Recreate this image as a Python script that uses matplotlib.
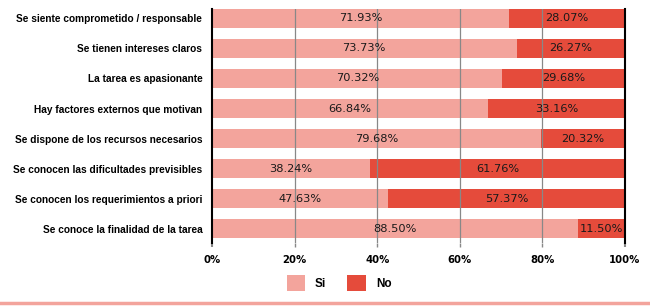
import matplotlib
matplotlib.use("Agg")
import matplotlib.pyplot as plt
from matplotlib.patches import Patch
from matplotlib import font_manager

categories = [
    "Se siente comprometido / responsable",
    "Se tienen intereses claros",
    "La tarea es apasionante",
    "Hay factores externos que motivan",
    "Se dispone de los recursos necesarios",
    "Se conocen las dificultades previsibles",
    "Se conocen los requerimientos a priori",
    "Se conoce la finalidad de la tarea",
]
si_vals = [71.93, 73.73, 70.32, 66.84, 79.68, 38.24, 47.63, 88.50]
no_vals = [28.07, 26.27, 29.68, 33.16, 20.32, 61.76, 57.37, 11.50]
xticks = [0, 20, 40, 60, 80, 100]
xtick_labels = ["0%", "20%", "40%", "60%", "80%", "100%"]
series_names = ["Si", "No"]

c_si = "#F3A49C"
c_no = "#E54B3B"

names = {f.name for f in font_manager.fontManager.ttflist}
narrow = "Liberation Sans Narrow" if "Liberation Sans Narrow" in names else "Liberation Sans"
plt.rcParams['font.family'] = ['DejaVu Sans']

fig = plt.figure(figsize=(6.5, 3.06), dpi=100)
ax = fig.add_axes([212/650, 1-243/306, 413/650, 234/306])

ys = list(range(len(categories)))
h = 0.63
ax.barh(ys, si_vals, height=h, color=c_si, zorder=2)
no_left = [100 - v for v in no_vals]
ax.barh(ys, no_vals, left=no_left, height=h, color=c_no, zorder=2)

for y, s, n in zip(ys, si_vals, no_vals):
    vis = min(s, 100 - n)
    ax.text(vis / 2, y, f"{s:.2f}%", ha="center", va="center", fontsize=8.2, color="#1a1a1a", zorder=4)
    ax.text(100 - n / 2, y, f"{n:.2f}%", ha="center", va="center", fontsize=8.2, color="#1a1a1a", zorder=4)

ax.set_xlim(0, 100)
ax.set_ylim(7.47, -0.31)
ax.set_yticks(ys)
ax.set_yticklabels(categories, fontsize=8.3 if narrow != "Liberation Sans" else 7.3,
                   fontweight="bold", family=[narrow, "DejaVu Sans"])
ax.tick_params(axis="y", length=0, pad=7)
ax.set_xticks(xticks)
ax.set_xticklabels(xtick_labels, fontsize=7.3, fontweight="bold")
ax.tick_params(axis="x", length=3, width=1, color="#888888", pad=5.5)
xt = ax.xaxis.get_major_ticks()
for i in (0, len(xt) - 1):
    xt[i].tick1line.set_color("black")
    xt[i].tick1line.set_markeredgewidth(1.5)

for x in xticks[1:-1]:
    ax.axvline(x, color="#888888", lw=0.9, zorder=3)

for s in ("top", "bottom"):
    ax.spines[s].set_visible(False)
for s in ("left", "right"):
    ax.spines[s].set_color("black")
    ax.spines[s].set_linewidth(1.5)

handles = [Patch(facecolor=c_si, edgecolor="none"), Patch(facecolor=c_no, edgecolor="none")]
fig.legend(handles, series_names, loc="center", bbox_to_anchor=(339/650, 1-283/306),
           ncol=2, frameon=False, handlelength=1.6, handleheight=1.6, columnspacing=1.8,
           handletextpad=0.8, prop={"family": [narrow, "DejaVu Sans"], "weight": "bold", "size": 8.5})

fig.add_artist(plt.Line2D([0, 1], [1-303/306, 1-303/306], color=c_si, lw=2.5, transform=fig.transFigure))

fig.savefig("out.png", dpi=100)
